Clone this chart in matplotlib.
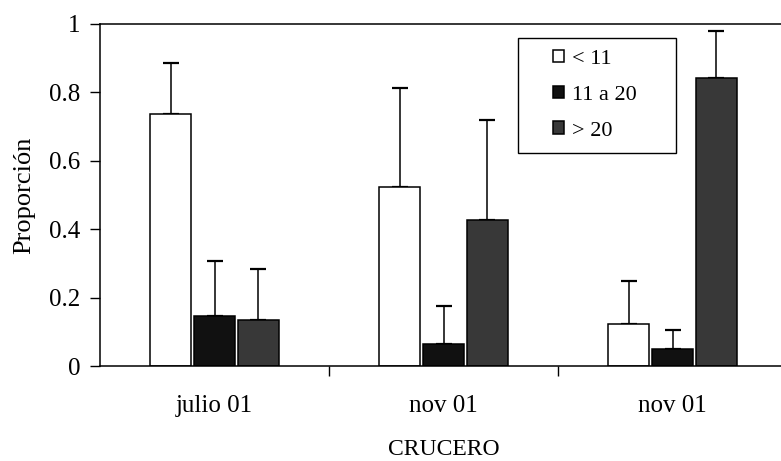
import matplotlib.pyplot as plt
from matplotlib.patches import Rectangle
import numpy as np

plt.rcParams['font.family'] = ['Liberation Serif', 'DejaVu Serif']

cruceros = ['julio 01', 'nov 01', 'nov 01']
clases = ['< 11', '11 a 20', '> 20']

# proportion per size class and cruise, with upper error
prop_menor11 = [0.736, 0.523, 0.123]
prop_11a20 = [0.147, 0.065, 0.050]
prop_mayor20 = [0.135, 0.428, 0.843]

err_menor11 = [0.150, 0.291, 0.125]
err_11a20 = [0.159, 0.109, 0.055]
err_mayor20 = [0.150, 0.291, 0.137]


def main():
    fig = plt.figure(figsize=(7.81, 4.61), dpi=100)
    ax = fig.add_axes([100 / 781, 95 / 461, 687 / 781, 342 / 461])

    x = np.arange(len(cruceros))
    w = 0.18
    step = 0.192
    series = [
        (prop_menor11, err_menor11, 'white'),
        (prop_11a20, err_11a20, '#111111'),
        (prop_mayor20, err_mayor20, '#383838'),
    ]
    for i, (vals, errs, color) in enumerate(series):
        pos = x + (i - 1) * step
        ax.bar(pos, vals, width=w, color=color, edgecolor='black',
               linewidth=1.1, label=clases[i], zorder=2)
        ax.errorbar(pos, vals, yerr=[np.zeros(len(vals)), errs], fmt='none',
                    ecolor='black', elinewidth=1.1, capsize=5.5,
                    capthick=1.6, zorder=1)

    ax.set_xlim(-0.5, 2.5)
    ax.set_ylim(0, 1)
    ax.set_yticks([0, 0.2, 0.4, 0.6, 0.8, 1])
    ax.set_yticklabels(['0', '0.2', '0.4', '0.6', '0.8', '1'])
    ax.set_xticks([0.5, 1.5], minor=False)
    ax.set_xticklabels([])
    ax.set_xticks(x, minor=True)
    ax.set_xticklabels(cruceros, minor=True)
    ax.tick_params(axis='x', which='major', direction='out', length=7, width=1)
    ax.tick_params(axis='x', which='minor', length=0, pad=21, labelsize=18)
    ax.tick_params(axis='y', direction='out', length=7, width=1, labelsize=18, pad=7)

    ax.spines['right'].set_visible(False)
    for s in ['left', 'top', 'bottom']:
        ax.spines[s].set_linewidth(1.1)

    ax.set_ylabel('Proporción', fontsize=19, labelpad=10)
    ax.set_xlabel('CRUCERO', fontsize=17, labelpad=16)

    # legend box drawn separately (wide frame as in the original)
    ax.add_patch(Rectangle((0.608, 0.623), 0.23, 0.336, transform=ax.transAxes,
                           facecolor='white', edgecolor='black',
                           linewidth=1.0, zorder=4))
    leg = ax.legend(loc='upper left', bbox_to_anchor=(0.659, 0.925),
                    frameon=False, fontsize=16, handlelength=0.5,
                    handleheight=0.5, handletextpad=0.35, labelspacing=0.75,
                    borderpad=0, borderaxespad=0)
    leg.set_zorder(5)

    fig.savefig('out.png', dpi=100)
    plt.close(fig)


if __name__ == "__main__":
    main()
